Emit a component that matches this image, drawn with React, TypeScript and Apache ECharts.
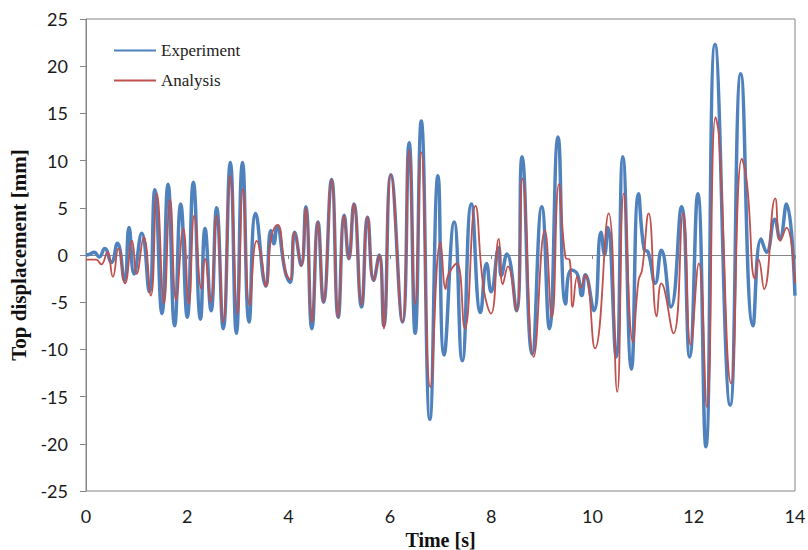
import React, { useEffect, useRef } from "react";
import * as echarts from "echarts";

// Experiment (blue) – time [s] and top displacement [mm]
const expTime = [
  0, 0.08, 0.16, 0.26, 0.37, 0.5, 0.62, 0.76, 0.85, 0.95, 1.1, 1.25, 1.36, 1.5, 1.62, 1.75,
  1.87, 2.0, 2.12, 2.26, 2.35, 2.47, 2.58, 2.71, 2.85, 2.97, 3.09, 3.22, 3.35, 3.55, 3.65,
  3.71, 3.77, 3.94, 4.03, 4.12, 4.25, 4.34, 4.46, 4.58, 4.69, 4.85, 4.98, 5.1, 5.19, 5.29,
  5.44, 5.56, 5.68, 5.79, 5.88, 6.02, 6.25, 6.38, 6.5, 6.62, 6.79, 6.95, 7.07, 7.27, 7.43,
  7.61, 7.79, 7.91, 8.0, 8.15, 8.2, 8.31, 8.5, 8.61, 8.81, 9.0, 9.15, 9.32, 9.47, 9.58,
  9.7, 9.79, 9.86, 10.03, 10.17, 10.24, 10.3, 10.47, 10.6, 10.77, 10.91, 11.02, 11.1,
  11.24, 11.36, 11.55, 11.76, 11.92, 12.08, 12.24, 12.42, 12.72, 12.93, 13.17, 13.33,
  13.44, 13.6, 13.7, 13.83, 14.0,
];
const expDisp = [
  0, 0.1, 0.3, -0.2, 0.7, -0.8, 1.25, -2.7, 2.9, -2.0, 2.3, -3.9, 6.9, -6.2, 7.5, -7.5,
  5.4, -6.6, 7.7, -6.8, 2.8, -5.9, 5.0, -7.8, 9.8, -8.3, 9.8, -7.1, 4.4, -3.3, 2.6,
  1.2, 3.0, -1.9, -2.9, 2.4, -1.1, 5.1, -7.8, 3.5, -5.0, 8.0, -6.6, 4.2, -0.4, 5.4,
  -5.5, 4.0, -2.7, 0.0, -7.5, 8.5, -7.1, 11.9, -8.3, 14.2, -17.4, 8.4, -10.6, 3.5, -11.2,
  5.4, -6.1, -0.9, -3.9, 0.8, -2.2, 0.1, -5.9, 10.4, -10.5, 5.1, -7.8, 12.5, -5.2, -1.6,
  -2.0, -4.3, -2.1, -5.9, 2.4, 0.0, 2.9, -10.8, 10.4, -12.1, 6.5, 0.6, 0.3,
  -3.0, 0.5, -5.5, 5.1, -10.8, 6.5, -20.3, 22.3, -15.9, 19.2, -7.5, 1.7,
  0.3, 3.8, 1.7, 5.4, -4.3,
];

// Analysis (red)
const anaTime = [
  0, 0.2, 0.3, 0.42, 0.53, 0.64, 0.77, 0.91, 1.0, 1.14, 1.28, 1.4, 1.54, 1.66, 1.78, 1.92,
  2.03, 2.14, 2.28, 2.35, 2.46, 2.58, 2.71, 2.85, 2.99, 3.1, 3.23, 3.37, 3.44, 3.56, 3.66,
  3.78, 3.94, 4.03, 4.12, 4.25, 4.34, 4.46, 4.58, 4.69, 4.85, 4.98, 5.1, 5.19, 5.29, 5.44,
  5.56, 5.68, 5.79, 5.88, 6.02, 6.25, 6.38, 6.5, 6.62, 6.8, 7.0, 7.1, 7.14, 7.24, 7.33,
  7.48, 7.69, 7.85, 8.0, 8.15, 8.23, 8.33, 8.5, 8.62, 8.84, 9.06, 9.2, 9.34, 9.47, 9.55,
  9.61, 9.7, 9.76, 9.86, 10.05, 10.32, 10.49, 10.62, 10.8, 10.91, 10.98, 11.11, 11.27,
  11.36, 11.6, 11.79, 11.94, 12.1, 12.26, 12.43, 12.5, 12.74, 12.95, 13.05, 13.21, 13.28,
  13.39, 13.61, 13.71, 13.83, 14.0,
];
const anaDisp = [
  -0.5, -0.5, -1.0, 0.3, -2.3, 0.7, -3.0, 1.5, -2.0, 1.9, -4.3, 6.5, -5.1, 5.9, -4.8, 2.8,
  -5.2, 4.2, -3.6, -0.4, -5.0, 4.2, -7.1, 8.4, -6.2, 7.0, -5.3, 1.5, 0.4, -3.3, 2.0,
  3.2, -1.8, -2.6, 2.4, -1.1, 5.0, -7.1, 3.5, -5.0, 8.0, -6.6, 4.2, -0.4, 5.4, -5.3,
  4.0, -2.7, 0.0, -7.8, 8.5, -7.1, 11.1, -5.2, 10.9, -14.0, 1.4, -3.6, -2.3, -1.3, -0.9,
  -7.8, 5.2, -3.5, -6.2, 1.7, -3.1, -1.2, -5.9, 8.1, -10.8, 2.6, -6.6, 7.5, -0.3, -0.5,
  -5.5, -2.3, -3.5, -2.1, -9.9, 4.4, -14.5, 6.5, -9.2, -2.7, -1.6, 4.4, -6.5,
  -3.0, -8.3, 4.4, -9.5, -0.9, -16.1, 14.6, 12.5, -13.6, 10.2, 7.7, -2.5, -0.5,
  -3.6, 6.0, 1.5, 2.9, -3.0,
];

const xTicks = [0, 14, 2];
const yTicks = [-25, 25, 5];

const BLUE = "#4F81BD";
const RED = "#C0504D";
const AXIS = "#868686";

export default function App() {
  const ref = useRef<HTMLDivElement>(null);
  useEffect(() => {
    if (!ref.current) return;
    const chart = echarts.init(ref.current, null, { renderer: "svg" });
    const zip = (t: number[], v: number[]) => t.map((x, i) => [x, v[i]]);
    chart.setOption({
      animation: false,
      backgroundColor: "#ffffff",
      grid: {
        left: 86,
        right: 13,
        top: 19,
        bottom: 59,
        containLabel: false,
        outerBoundsMode: "none",
        show: true,
        borderColor: AXIS,
        borderWidth: 1,
        backgroundColor: "transparent",
      },
      legend: {
        orient: "vertical",
        left: 113,
        top: 42,
        padding: 0,
        itemWidth: 42,
        itemHeight: 14,
        itemGap: 13,
        itemStyle: { opacity: 0 },
        textStyle: { fontFamily: "Liberation Serif", fontSize: 17, color: "#222" },
        data: ["Experiment", "Analysis"],
      },
      xAxis: [
        {
          type: "value",
          min: xTicks[0],
          max: xTicks[1],
          interval: xTicks[2],
          position: "bottom",
          axisLine: { show: true, onZero: true, lineStyle: { color: AXIS, width: 1 } },
          axisTick: { show: true, length: 4, lineStyle: { color: AXIS } },
          axisLabel: { show: false },
          splitLine: { show: false },
        },
        {
          type: "value",
          min: xTicks[0],
          max: xTicks[1],
          interval: xTicks[2],
          position: "bottom",
          axisLine: { show: false, onZero: false },
          axisTick: { show: false },
          axisLabel: { fontFamily: "Lato", fontSize: 18, color: "#1a1a1a", margin: 16 },
          splitLine: { show: false },
          name: "Time [s]",
          nameLocation: "middle",
          nameGap: 34,
          nameTextStyle: {
            fontFamily: "Liberation Serif",
            fontWeight: "bold",
            fontSize: 20,
            lineHeight: 20,
            color: "#111",
          },
        },
      ],
      yAxis: {
        type: "value",
        min: yTicks[0],
        max: yTicks[1],
        interval: yTicks[2],
        axisLine: { show: true, lineStyle: { color: AXIS, width: 1 } },
        axisTick: { show: true, length: 6, inside: false, lineStyle: { color: AXIS } },
        axisLabel: { fontFamily: "Lato", fontSize: 18, color: "#1a1a1a", margin: 18 },
        splitLine: { show: false },
        name: "Top displacement [mm]",
        nameLocation: "middle",
        nameGap: 54,
        nameTextStyle: { fontFamily: "Liberation Serif", fontWeight: "bold", fontSize: 21, color: "#111" },
      },
      series: [
        {
          name: "Experiment",
          type: "line",
          xAxisIndex: 0,
          data: zip(expTime, expDisp),
          smooth: 0.5,
          showSymbol: false,
          symbol: "none",
          lineStyle: { color: BLUE, width: 3.5 },
          itemStyle: { color: BLUE },
        },
        {
          name: "Analysis",
          type: "line",
          xAxisIndex: 0,
          data: zip(anaTime, anaDisp),
          smooth: 0.5,
          showSymbol: false,
          symbol: "none",
          lineStyle: { color: RED, width: 1.8 },
          itemStyle: { color: RED },
        },
      ],
    });
    return () => chart.dispose();
  }, []);
  return (
    <div
      style={{ position: "absolute", left: 0, top: 0, width: 808, height: 550, overflow: "hidden" }}
    >
      <div ref={ref} style={{ width: 808, height: 550 }} />
    </div>
  );
}
